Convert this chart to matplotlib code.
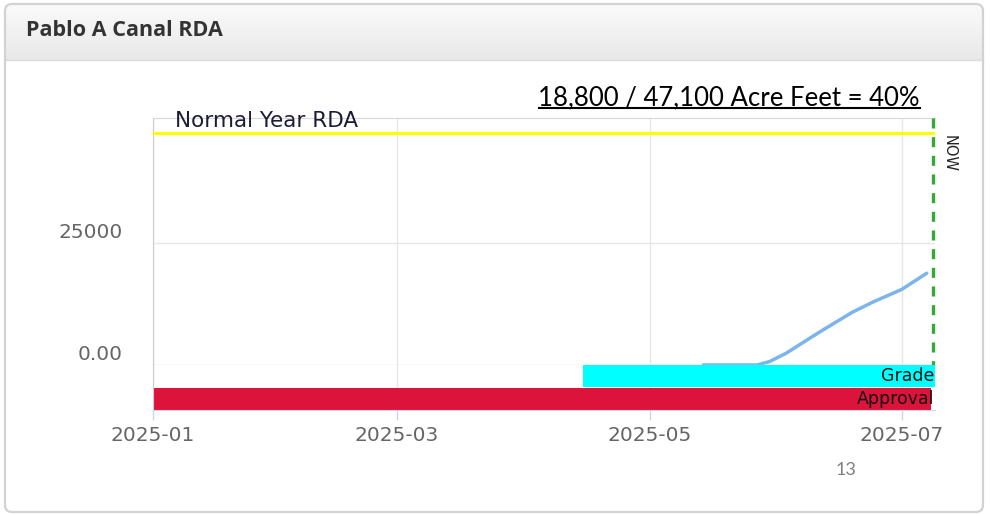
import matplotlib
matplotlib.use('Agg')
import matplotlib.pyplot as plt
import matplotlib.dates as mdates
from matplotlib.patches import FancyBboxPatch
from matplotlib.lines import Line2D
from matplotlib.transforms import offset_copy, blended_transform_factory
from matplotlib.colors import LinearSegmentedColormap
import numpy as np
import datetime as dt

# ---------------- data ----------------
title = "Pablo A Canal RDA"
summary_text = "18,800 / 47,100 Acre Feet = 40%"
page_number = "13"

rda_dates = ["2025-05-14", "2025-05-21", "2025-05-27", "2025-05-30", "2025-06-03",
             "2025-06-11", "2025-06-19", "2025-06-24", "2025-07-01", "2025-07-07"]
rda_values = [0, 0, 0, 700, 2400, 6700, 10800, 12900, 15500, 18800]

normal_year_rda = 47600
normal_label = "Normal Year RDA"
now_date = "2025-07-08 12:00"

gantt_tasks = ["Grade", "Approval"]
gantt_starts = ["2025-04-15", "2025-01-01"]
gantt_ends = ["2025-07-12", "2025-07-08"]
gantt_colors = ["#00ffff", "#dc143c"]

y_ticks = [0, 25000]
y_tick_labels = ["0.00", "25000"]
x_ticks = ["2025-01-01", "2025-03-01", "2025-05-01", "2025-07-01"]
x_range = ["2025-01-01", "2025-07-09"]

# ---------------- figure ----------------
W, H = 990, 515
fig = plt.figure(figsize=(W / 100, H / 100), dpi=100)
fig.patch.set_facecolor("white")


def fx(x):
    return x / W


def fy(y):
    return 1 - y / H


def rect(x0, y0, x1, y1):
    return [fx(x0), fy(y1), (x1 - x0) / W, (y1 - y0) / H]


# panel
panel = FancyBboxPatch((5, H - 512), 978, 508, boxstyle="round,pad=0,rounding_size=7",
                       transform=None, fc="white", ec="none", zorder=-10)
fig.add_artist(panel)

hax = fig.add_axes(rect(5, 4, 983, 60), zorder=-5)
grad = np.linspace(0, 1, 64).reshape(-1, 1)
cmap = LinearSegmentedColormap.from_list("hdr", ["#fbfbfb", "#e8e8e8"])
im = hax.imshow(grad, aspect="auto", cmap=cmap, extent=[0, 1, 0, 1], origin="upper")
im.set_clip_path(panel)
hax.set_axis_off()

fig.add_artist(Line2D([5, 983], [H - 60, H - 60], transform=None, color="#dcdcdc", lw=1, zorder=5))
border = FancyBboxPatch((5, H - 512), 978, 508, boxstyle="round,pad=0,rounding_size=7",
                        transform=None, fc="none", ec="#d2d2d2", lw=1.6, zorder=6)
fig.add_artist(border)

fig.text(fx(26), fy(31), title, fontfamily="Open Sans", fontweight="bold",
         fontsize=15.5, color="#333333", va="center", ha="left")

# ---------------- main axes ----------------
xd = [dt.datetime.fromisoformat(d) for d in x_range]
ax = fig.add_axes(rect(153, 118, 935, 365))
gx = fig.add_axes(rect(153, 365, 935, 410), sharex=ax)

ax.set_xlim(xd[0], xd[1])
ax.set_ylim(0, 50600)
ax.set_yticks(y_ticks)
ax.set_xticks([dt.datetime.fromisoformat(d) for d in x_ticks])
ax.grid(True, color="#e6e6e6", lw=1)
ax.set_axisbelow(True)
ax.tick_params(length=0, labelleft=False, labelbottom=False)
ax.spines["right"].set_visible(False)
ax.spines["top"].set_color("#d8d8d8")
ax.spines["left"].set_color("#cccccc")
ax.spines["bottom"].set_color("#e6e6e6")

ytrans = offset_copy(blended_transform_factory(ax.transAxes, ax.transData), fig=fig,
                     x=-30, y=10, units="dots")
for v, lab in zip(y_ticks, y_tick_labels):
    ax.text(0, v, lab, transform=ytrans, ha="right", va="center", fontsize=14.5,
            color="#666666", clip_on=False)

# normal year RDA line
ax.axhline(normal_year_rda, color="#ffff00", lw=2.3, zorder=3)
ntrans = offset_copy(blended_transform_factory(ax.transAxes, ax.transData), fig=fig,
                     x=22, y=6, units="dots")
ax.text(0, normal_year_rda, normal_label, transform=ntrans, ha="left", va="baseline",
        fontsize=15.5, color="#1c1c36", clip_on=False, zorder=5)

# RDA series
ax.plot([dt.datetime.fromisoformat(d) for d in rda_dates], rda_values,
        color="#7cb5ec", lw=2.5, solid_capstyle="round", zorder=4)

# NOW line
nd = dt.datetime.fromisoformat(now_date)
ax.plot([nd, nd], [50600, 0], color="#35a835", lw=2.4, ls=(0, (3.0, 2.6)), zorder=5,
        clip_on=False)
nowtrans = offset_copy(blended_transform_factory(ax.transData, ax.transAxes), fig=fig,
                       x=9, y=-17, units="dots")
ax.text(nd, 1, "NOW", transform=nowtrans, rotation=-90, ha="left", va="top",
        fontsize=10.5, color="#222222", clip_on=False)

# ---------------- gantt ----------------
starts = [mdates.date2num(dt.datetime.fromisoformat(d)) for d in gantt_starts]
ends = [mdates.date2num(dt.datetime.fromisoformat(d)) for d in gantt_ends]
widths = [e - s for s, e in zip(starts, ends)]
ypos = np.arange(len(gantt_tasks))
gx.barh(ypos, widths, left=starts, height=0.96, color=gantt_colors, zorder=2)
gx.set_ylim(len(gantt_tasks) - 0.5, -0.5)
gx.set_yticks([])
gx.set_axisbelow(True)
gx.grid(True, axis="x", color="#e6e6e6", lw=1)
gx.spines["top"].set_visible(False)
gx.spines["right"].set_visible(False)
gx.spines["left"].set_color("#cccccc")
gx.spines["bottom"].set_color("#ccd6eb")
gtrans = offset_copy(blended_transform_factory(gx.transAxes, gx.transData), fig=fig,
                     x=-1, y=0, units="dots")
for i, t in enumerate(gantt_tasks):
    gx.text(1, i, t, transform=gtrans, ha="right", va="center", fontsize=12.5,
            color="#111111", zorder=5, clip_on=False)

gx.xaxis.set_major_formatter(mdates.DateFormatter("%Y-%m"))
gx.tick_params(axis="x", length=7.2, width=1, color="#ccd6eb", pad=4,
               labelsize=14.5, labelcolor="#666666")
gx.set_xlim(xd[0], xd[1])

# ---------------- annotations ----------------
st = fig.text(fx(920), fy(105), summary_text, ha="right", va="baseline",
              fontfamily="Lato", fontsize=18.5, color="black")
fig.canvas.draw()
bb = st.get_window_extent()
fig.add_artist(Line2D([bb.x0, bb.x1], [H - 108, H - 108], transform=None,
                      color="black", lw=1.5))

fig.text(fx(846), fy(470), page_number, ha="center", va="center", fontsize=13,
         color="#808080", fontfamily="Lato")

fig.savefig("out.png", dpi=100)
